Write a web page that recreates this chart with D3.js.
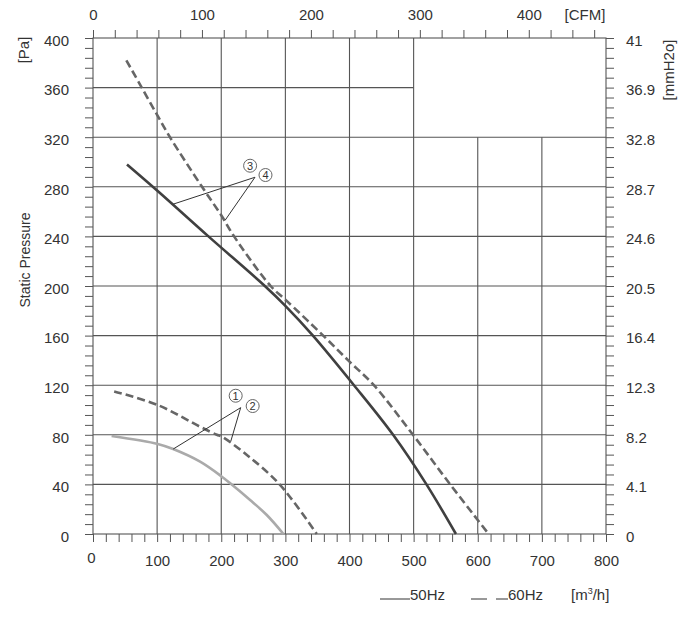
<!DOCTYPE html>
<html>
<head>
<meta charset="utf-8">
<script src="https://cdn.jsdelivr.net/npm/d3@7"></script>
<style>
  body { margin: 0; background: #fff; }
  svg text { font-family: "Liberation Sans", Arial, sans-serif; fill: #333; }
</style>
</head>
<body>
<script>
// caudal en m3/h y presion estatica en Pa
let flow1 = [29, 101, 125, 167, 201, 214, 245, 271, 297];
let pres1 = [79, 72.6, 68.5, 58.3, 46.2, 40.9, 27.4, 15.3, 0];
let flow2 = [33, 101, 167, 193, 201, 240, 291, 349];
let pres2 = [115, 104, 86.5, 80, 78.5, 63.7, 40, 0];
let flow3 = [53, 100, 180, 268, 300, 343, 407, 468, 520, 566];
let pres3 = [298, 277, 240, 200, 184, 160, 120, 80, 40, 0];
let flow4 = [52, 76, 100, 120, 170, 200, 220, 277, 300, 359, 400, 438, 499, 557, 617];
let pres4 = [382, 360, 338, 320, 280, 257, 240, 200, 189, 160, 139, 120, 80, 40, 0];

let mmLabels = ["0", "4.1", "8.2", "12.3", "16.4", "20.5", "24.6", "28.7", "32.8", "36.9", "41"];
let cfmLabels = [0, 100, 200, 300, 400];

// lineas de rejilla: valor y hasta donde llegan
let vGrid = [100, 200, 300, 400, 500, 600, 700];
let vGridTop = [400, 400, 400, 400, 400, 320, 320];
let hGrid = [360, 320, 280, 240, 200, 160, 120, 80, 40];
let hGridEnd = [500, 800, 800, 800, 800, 800, 800, 800, 800];

// etiquetas numeradas [caudal, presion]
let marks = ["3", "4", "1", "2"];
let markPos = [[245, 297], [269, 289.5], [222.5, 111.5], [249, 103.2]];
let leaderFrom = [[252.6, 287.7], [252.6, 287.7], [230.3, 101.9], [230.3, 101.9]];
let leaderTo = [[125, 266], [206, 253], [125, 68.5], [215, 75]];

let width = 700, height = 623;

let svg = d3.select("body").append("svg")
  .attr("width", width)
  .attr("height", height);

let x = d3.scaleLinear().domain([0, 800]).range([93, 606]);
let y = d3.scaleLinear().domain([0, 400]).range([534, 38]);
let cfm = d3.scaleLinear().domain([0, 800 / 1.699]).range([93, 606]);
let mm = d3.scaleLinear().domain([0, 10]).range([534, 38]);

let gridColor = "#555";

// rejilla
svg.append("g").selectAll("line").data(vGrid).enter().append("line")
  .attr("x1", d => x(d)).attr("x2", d => x(d))
  .attr("y1", y(0)).attr("y2", (d, i) => y(vGridTop[i]))
  .attr("stroke", gridColor).attr("stroke-width", 1.1);

svg.append("g").selectAll("line").data(hGrid).enter().append("line")
  .attr("x1", x(0)).attr("x2", (d, i) => x(hGridEnd[i]))
  .attr("y1", d => y(d)).attr("y2", d => y(d))
  .attr("stroke", gridColor).attr("stroke-width", 1.1);

svg.append("rect")
  .attr("x", x(0)).attr("y", y(400))
  .attr("width", x(800) - x(0)).attr("height", y(0) - y(400))
  .attr("fill", "none").attr("stroke", gridColor).attr("stroke-width", 1.1);

// ejes
function styleAxis(g) {
  g.select(".domain").remove();
  g.selectAll(".tick line").attr("stroke", gridColor);
  g.selectAll("text").attr("font-size", 15).attr("fill", "#333")
    .attr("font-family", '"Liberation Sans", Arial, sans-serif');
}

let bottom = svg.append("g")
  .attr("transform", `translate(0,${y(0)})`)
  .call(d3.axisBottom(x).tickValues(d3.range(0, 801, 20)).tickSize(8).tickPadding(13)
    .tickFormat(d => d % 100 === 0 ? d : ""))
  .call(styleAxis);
// el cero de abajo va un poco mas arriba y a la izquierda
bottom.selectAll(".tick text").filter(d => d === 0).attr("dx", -2).attr("dy", "0.5em");

svg.append("g")
  .attr("transform", `translate(0,${y(400)})`)
  .call(d3.axisTop(cfm).tickValues(d3.range(0, 461, 20)).tickSize(8).tickPadding(10)
    .tickFormat(d => cfmLabels.includes(d) ? d : ""))
  .call(styleAxis);

svg.append("g")
  .attr("transform", `translate(${x(0)},0)`)
  .call(d3.axisLeft(y).tickValues(d3.range(0, 401, 8)).tickSize(8).tickPadding(16)
    .tickFormat(d => d % 40 === 0 ? d : ""))
  .call(styleAxis)
  .selectAll("text").attr("dy", "0.48em");

svg.append("g")
  .attr("transform", `translate(${x(800)},0)`)
  .call(d3.axisRight(mm).tickValues(d3.range(0, 10.01, 0.2)).tickSize(8).tickPadding(12)
    .tickFormat(d => {
      let k = Math.round(d * 5);
      return k % 5 === 0 ? mmLabels[k / 5] : "";
    }))
  .call(styleAxis)
  .selectAll("text").attr("dy", "0.48em");

// titulos de ejes
svg.append("text").attr("x", 585).attr("y", 20).attr("text-anchor", "middle")
  .attr("font-size", 15).text("[CFM]");
svg.append("text").attr("transform", "translate(29,50) rotate(-90)")
  .attr("text-anchor", "middle").attr("font-size", 15).text("[Pa]");
svg.append("text").attr("transform", "translate(30,260) rotate(-90)")
  .attr("text-anchor", "middle").attr("font-size", 14).text("Static Pressure");
svg.append("text").attr("transform", "translate(674,70) rotate(-90)")
  .attr("text-anchor", "middle").attr("font-size", 15).text("[mmH2o]");

// curvas
let line = d3.line().x(d => x(d[0])).y(d => y(d[1])).curve(d3.curveCatmullRom.alpha(0.5));

let curves = [
  { q: flow1, p: pres1, color: "#aaaaaa", dash: null },
  { q: flow2, p: pres2, color: "#666666", dash: "8,4" },
  { q: flow3, p: pres3, color: "#404040", dash: null },
  { q: flow4, p: pres4, color: "#666666", dash: "8,4" }
];

svg.append("g").selectAll("path").data(curves).enter().append("path")
  .attr("d", c => line(c.q.map((q, i) => [q, c.p[i]])))
  .attr("fill", "none")
  .attr("stroke", c => c.color)
  .attr("stroke-width", 2.6)
  .attr("stroke-dasharray", c => c.dash);

// lineas guia y numeros en circulo
svg.append("g").selectAll("line").data(leaderFrom).enter().append("line")
  .attr("x1", d => x(d[0])).attr("y1", d => y(d[1]))
  .attr("x2", (d, i) => x(leaderTo[i][0])).attr("y2", (d, i) => y(leaderTo[i][1]))
  .attr("stroke", "#333").attr("stroke-width", 1);

let mk = svg.append("g").selectAll("g").data(marks).enter().append("g")
  .attr("transform", (d, i) => `translate(${x(markPos[i][0])},${y(markPos[i][1])})`);
mk.append("circle").attr("r", 6.5).attr("fill", "#fff")
  .attr("stroke", "#666").attr("stroke-width", 1);
mk.append("text").attr("text-anchor", "middle").attr("dy", "0.36em")
  .attr("font-size", 11).text(d => d);

// leyenda
let leg = svg.append("g");
leg.append("line").attr("x1", 380).attr("x2", 410).attr("y1", 599).attr("y2", 599)
  .attr("stroke", "#333").attr("stroke-width", 1);
leg.append("text").attr("x", 410).attr("y", 600).attr("font-size", 15).text("50Hz");
leg.append("line").attr("x1", 471).attr("x2", 487).attr("y1", 599).attr("y2", 599)
  .attr("stroke", "#333").attr("stroke-width", 1);
leg.append("line").attr("x1", 496).attr("x2", 508).attr("y1", 599).attr("y2", 599)
  .attr("stroke", "#333").attr("stroke-width", 1);
leg.append("text").attr("x", 508).attr("y", 600).attr("font-size", 15).text("60Hz");
let unit = leg.append("text").attr("x", 571).attr("y", 600).attr("font-size", 15);
unit.append("tspan").text("[m");
unit.append("tspan").attr("font-size", 9).attr("dy", -6).text("3");
unit.append("tspan").attr("dy", 6).text("/h]");
</script>
</body>
</html>
